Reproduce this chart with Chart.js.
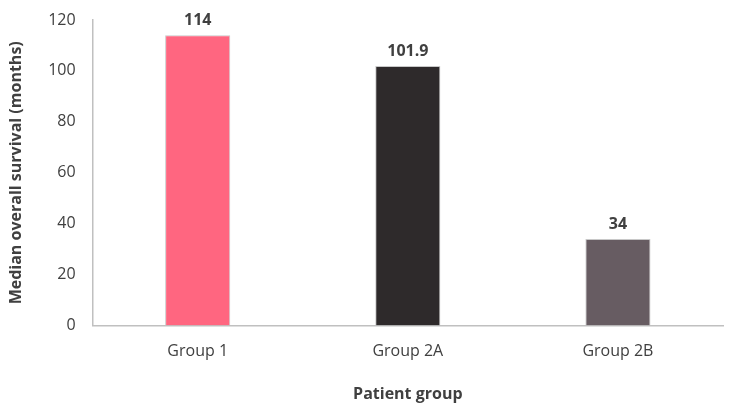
<!DOCTYPE html>
<html>
<head>
<meta charset="utf-8">
<script src="https://cdn.jsdelivr.net/npm/chart.js@4"></script>
<style>
  html, body { margin: 0; padding: 0; background: #fff; }
  #wrap { width: 741px; height: 408px; }
</style>
</head>
<body>
<div id="wrap"><canvas id="chart"></canvas></div>
<script>
const groups = ['Group 1', 'Group 2A', 'Group 2B'];
const survival = [114, 101.9, 34];
const barColors = ['#FF6680', '#2E2A2B', '#675C62'];

// draws the value above each bar
const valueLabels = {
    id: 'valueLabels',
    afterDatasetsDraw(chart) {
        const ctx = chart.ctx;
        const meta = chart.getDatasetMeta(0);
        ctx.save();
        ctx.font = 'bold 16px "Open Sans", sans-serif';
        ctx.fillStyle = '#404040';
        ctx.textAlign = 'center';
        ctx.textBaseline = 'bottom';
        meta.data.forEach((bar, i) => {
            ctx.fillText(String(survival[i]), bar.x, bar.y - 7);
        });
        ctx.restore();
    }
};

const ctx = document.getElementById('chart').getContext('2d');
new Chart(ctx, {
    type: 'bar',
    data: {
        labels: groups,
        datasets: [{
            data: survival,
            backgroundColor: barColors,
            borderColor: '#c8c8c8',
            borderWidth: 1,
            barPercentage: 0.62,
            categoryPercentage: 0.5
        }]
    },
    options: {
        responsive: true,
        maintainAspectRatio: false,
        animation: false,
        layout: {
            padding: { top: 20, right: 18, left: 3, bottom: 0 }
        },
        scales: {
            x: {
                grid: { display: false, drawTicks: false },
                border: { color: '#c0c0c0', width: 1.5 },
                ticks: {
                    color: '#404040',
                    padding: 16,
                    font: { family: '"Open Sans", sans-serif', size: 16 }
                },
                title: {
                    display: true,
                    text: 'Patient group',
                    color: '#404040',
                    padding: { top: 8 },
                    font: { family: '"Open Sans", sans-serif', size: 16, weight: 'bold' }
                }
            },
            y: {
                min: 0,
                max: 120,
                // invisible tick marks give the horizontal gap without padding the top
                grid: { display: false, drawTicks: true, tickLength: 14, tickColor: 'rgba(0,0,0,0)' },
                border: { color: '#c0c0c0', width: 1.5 },
                ticks: {
                    stepSize: 20,
                    color: '#404040',
                    padding: 3,
                    font: { family: '"Open Sans", sans-serif', size: 16 }
                },
                title: {
                    display: true,
                    text: 'Median overall survival (months)',
                    color: '#404040',
                    padding: { bottom: 19 },
                    font: { family: '"Open Sans", sans-serif', size: 16, weight: 'bold' }
                }
            }
        },
        plugins: {
            legend: { display: false },
            tooltip: { enabled: false }
        }
    },
    plugins: [valueLabels]
});
</script>
</body>
</html>
